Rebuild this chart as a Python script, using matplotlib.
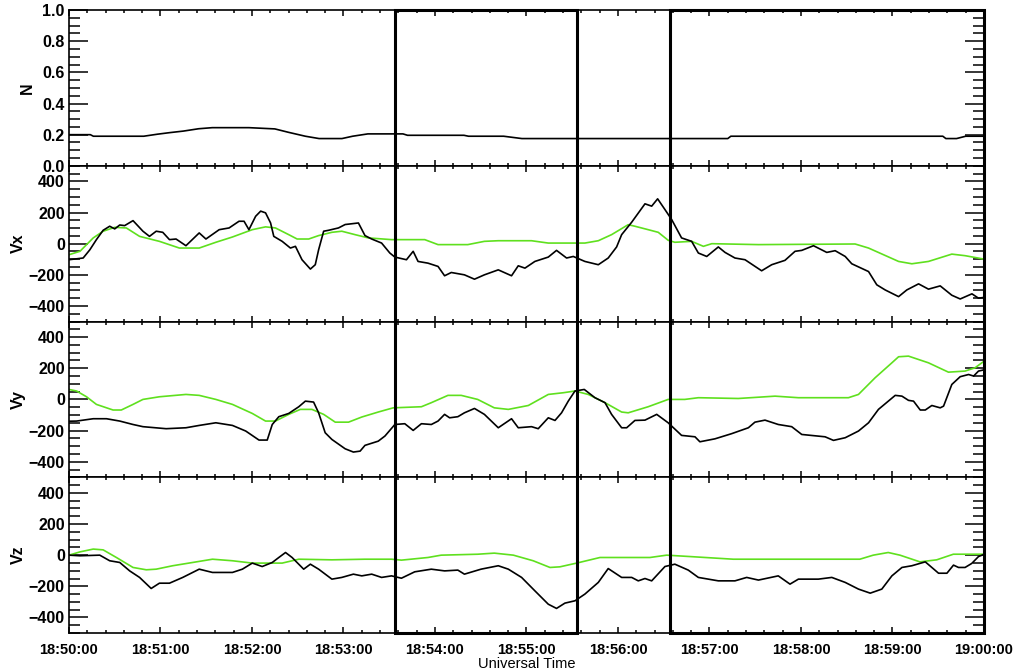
import numpy as np
import matplotlib
matplotlib.use('Agg')
import matplotlib.pyplot as plt
from matplotlib.patches import Rectangle
from matplotlib.ticker import MultipleLocator
from matplotlib.transforms import blended_transform_factory

plt.rcParams['font.family'] = ['Liberation Sans', 'DejaVu Sans']
plt.rcParams['font.weight'] = 'bold'

# time in seconds after 18:50:00
tick_sec = [0, 60, 120, 180, 240, 300, 360, 420, 480, 540, 600]
tick_labels = ['18:50:00', '18:51:00', '18:52:00', '18:53:00', '18:54:00', '18:55:00',
               '18:56:00', '18:57:00', '18:58:00', '18:59:00', '19:00:00']

# boxed intervals (s)
box_start = [214, 394]
box_end = [333, 600]

# N
t_n = [0, 14, 16, 33, 49, 58, 66, 75, 85, 94, 118, 135, 144, 155, 164, 179, 186, 196, 219, 222,
       259, 262, 285, 297, 432, 434, 573, 575, 582, 588, 600]
n_vals = [0.20, 0.20, 0.19, 0.19, 0.19, 0.203, 0.213, 0.223, 0.238, 0.245, 0.245, 0.237, 0.215, 0.19,
          0.175, 0.175, 0.19, 0.205, 0.205, 0.196, 0.196, 0.19, 0.19, 0.175, 0.175, 0.19, 0.19, 0.175,
          0.175, 0.19, 0.19]

# Vx
t_vx = [0, 9.3, 13.7, 18, 22.4, 26.7, 30, 33.3, 36.5, 42, 48.5, 52.8, 57.2, 61.5, 65.9, 70.2, 76.7,
        85.4, 89.8, 98.5, 105, 111.5, 114.8, 118, 122.4, 125.7, 128.9, 132.2, 134.3, 139.8, 145.2,
        148.5, 152.8, 158.3, 161.5, 163.7, 167, 170.2, 176.7, 181.1, 189.8, 194.1, 198.5, 205, 210.4,
        213.7, 221.3, 225.7, 228.9, 235.4, 242, 246.3, 250.7, 259.3, 265.9, 272.4,
        281.5, 290.2, 294.6, 299, 305.5, 314.3, 319.7, 326.3, 330.7, 338.3, 347.1, 353.6, 359.1, 362.4,
        369, 377.7, 382.1, 386, 390.8, 395.2, 401.7, 408.3, 412.7, 418.2, 425.8, 430.2, 436.7, 443.3,
        454.2, 460.8, 469.5, 476.1, 480.5, 488.2, 496.9, 502.4, 509, 513.3, 524.3, 529.7, 535.2, 544,
        549.4, 557.1, 563.6, 571.3, 578.9, 584.4, 592.1, 596.4, 600]
vx_obs = [-103, -92, -39, 26, 86, 112, 95, 120, 116, 148, 80, 47, 80, 73, 26, 30, -13,
          69, 30, 90, 101, 144, 144, 90, 176, 209, 198, 133, 47, 15, -28,
          -17, -103, -163, -135, -39, 80, 86, 101, 123, 133, 52, 30, 4, -60,
          -86, -103, -49, -114, -125, -146, -206, -185, -200, -228, -200,
          -168, -206, -142, -157, -114, -86, -43, -92, -82, -114, -135, -92, -21, 58,
          138, 256, 241, 288, 219, 155, 37, 15, -60, -82, -21, -56, -92, -103,
          -174, -135, -107, -49, -43, -13, -56, -45, -82, -129, -179, -264, -297, -340,
          -297, -258, -292, -271, -331, -355, -322, -350, -345]
t_vx_m = [0, 7.2, 15.9, 22.4, 30, 37.6, 46.3, 59.3, 72.4, 85.4, 96.3, 107.2, 120.2, 128.9, 135.4,
          144.1, 149.6, 157.2, 163.7, 172.4, 178.9, 187.6, 196.3, 211.5, 233.3, 242, 261.5, 272.4,
          281.5, 303.3, 314.3, 338.3, 347.1, 355.8, 366.7, 371.1, 379.8, 386.4, 392.9, 397.3, 408.3,
          416, 421.5, 452.1, 515.5, 524.3, 544, 552.7, 563.6, 578.9, 587.6, 600]
vx_mod = [-71, -49, 37, 80, 105, 101, 47, 15, -28, -28, 9, 43, 90, 108, 101,
          58, 30, 30, 52, 73, 80, 58, 37, 26, 26, -6, -6, 15,
          19, 19, 4, 4, 19, 58, 122, 112, 90, 73, 22, 9, 15,
          -17, 0, -6, -2, -28, -114, -129, -114, -67, -77, -99]

# Vy
t_vy = [0, 5, 15.9, 24.6, 33.3, 42, 48.5, 63.7, 76.7, 85.4, 96.3, 107.2, 115.9, 124.6, 130, 133.3,
        137.6, 144.1, 150.7, 155, 160.4, 163.7, 168, 172.4, 181.1, 186.5, 190.9, 194.1, 202.8, 207.2,
        213.7, 220.2, 225.7, 231.1, 237.6, 242, 246.3, 249.6, 255, 259.3, 265.9, 272.4,
        281.5, 290.2, 294.6, 303.3, 307.7, 314.3, 318.7, 323, 327.4, 331.8, 337.9, 344.9, 351.5,
        355.8, 362.4, 365.7, 371.1, 377.7, 385.4, 392.9, 401.7, 410.5, 413.7, 423.6, 434.5, 445.5,
        449.8, 456.4, 465.1, 473.9, 480.5, 495.8, 501.3, 509, 517.7, 524.3, 530.8, 541.8, 546.2,
        550.5, 553.8, 558.2, 561.5, 565.8, 571.3, 573.5, 578.9, 584.4, 589.9, 593.2, 596.4, 600]
vy_obs = [-140, -139, -124, -124, -139, -161, -175, -188, -182, -167, -150, -167, -203, -261, -261, -161,
          -111, -90, -47, -11, -17, -86, -214, -257, -317, -338, -332, -295, -268, -235,
          -161, -156, -199, -156, -161, -139, -96, -118, -111, -86, -58, -96,
          -182, -124, -182, -175, -188, -118, -135, -86, -11, 54, 64, 11, -21,
          -96, -182, -182, -135, -133, -96, -150, -231, -240, -272, -253, -220, -182,
          -146, -133, -161, -175, -225, -240, -263, -246, -203, -150, -64, 26, 21,
          -6, -11, -68, -68, -39, -54, -43, 96, 146, 160, 150, 182, 190]
t_vy_m = [0, 5, 11.5, 18, 28.9, 34.3, 42, 48.5, 59.3, 76.7, 85.4, 96.3, 107.2, 120.2, 128.9, 135.4,
          144.1, 151.7, 159.3, 167, 174.6, 183.3, 192, 202.8, 212.6, 231.1, 237.6, 248.5, 257.2, 268,
          278.9, 288.1, 301.2, 314.3, 324.2, 331.8, 340.5, 351.5, 362.4, 366.7, 379.8, 392.9, 403.8,
          412.7, 438.9, 463, 478.3, 511.1, 517.7, 528.6, 539.6, 544, 550.5, 563.6, 576.7, 587.6,
          594.1, 600]
vy_mod = [64, 54, 17, -32, -68, -68, -32, 0, 17, 32, 26, 0, -32, -90, -139, -139,
          -96, -64, -64, -96, -146, -146, -113, -81, -54, -47, -21, 26, 26, 0,
          -54, -64, -39, 32, 43, 54, 32, -21, -81, -86, -47, 0, 0,
          11, 6, 21, 11, 11, 32, 139, 235, 274, 278, 235, 175, 182,
          203, 245]

# Vz
t_vz = [0, 7.2, 20.2, 26.7, 33.3, 39.8, 46.3, 53.9, 59.3, 65.9, 74.6, 85.4, 94.1, 107.2, 113.7, 120.2,
        126.7, 133.3, 137.6, 142, 146.3, 153.9, 158.3, 163.7, 172.4, 178.9, 186.5, 192, 198.5, 205,
        211.5, 218, 226.7, 237.6, 246.3, 255, 259.3, 270.2,
        281.5, 288.1, 296.8, 305.5, 314.3, 319.7, 325.2, 331.8, 338.3, 347.1, 353.6, 362.4, 369,
        373.3, 377.7, 382.1, 390.8, 397.3, 406.1, 412.7, 425.8, 436.7, 444.4, 452.1, 465.1, 472.8,
        478.3, 491.4, 500.2, 509, 517.7, 525.4, 533, 539.6, 546.2, 552.7, 561.5, 565.8, 570.2,
        575.7, 580, 583.3, 587.6, 592, 596.4, 600]
vz_obs = [0, -4, 0, -36, -47, -101, -143, -214, -180, -180, -143, -90, -111, -111, -90, -51,
          -73, -47, -15, 17, -15, -90, -58, -90, -154, -143, -122, -133, -122, -143,
          -133, -148, -107, -90, -101, -96, -122, -90,
          -68, -90, -143, -229, -315, -342, -308, -293, -250, -175, -86, -143, -143,
          -165, -150, -165, -73, -58, -96, -143, -165, -165, -143, -160, -133, -186,
          -154, -154, -143, -175, -218, -244, -218, -133, -79, -68, -43, -79, -116,
          -116, -64, -79, -79, -53, -9, 5]
t_vz_m = [0, 7.2, 15.9, 22.4, 31.1, 42, 50.7, 57.2, 68, 81.1, 94.1, 107.2, 120.2, 139.8, 150.7,
          172.4, 194.1, 211.5, 218, 235.4, 244.1, 268, 278.9, 291.4, 304.4, 315.4, 321.9, 332.9,
          348.2, 381, 391.9, 407.2, 435.6, 518.6, 527.4, 537.2, 544.9, 558, 569, 579.9, 600]
vz_mod = [0, 21, 39, 34, -15, -79, -94, -90, -68, -47, -26, -36, -51, -51, -26,
          -30, -26, -26, -32, -15, 0, 6, 13, 0, -36, -79, -75, -51,
          -15, -15, 0, -9, -26, -26, 0, 17, 0, -43, -30, 6, 6]

green = '#5fe01e'

fig, axes = plt.subplots(4, 1, figsize=(10.31, 6.72), dpi=100, sharex=True)
plt.subplots_adjust(left=0.0669, right=0.9544, top=0.985, bottom=0.058, hspace=0)

panels = [
    ('N', [(t_n, n_vals, 'black')], (0, 1), 0.05, -0.0375),
    ('Vx', [(t_vx_m, vx_mod, green), (t_vx, vx_obs, 'black')], (-500, 500), 50, -0.0474),
    ('Vy', [(t_vy_m, vy_mod, green), (t_vy, vy_obs, 'black')], (-500, 500), 50, -0.0474),
    ('Vz', [(t_vz_m, vz_mod, green), (t_vz, vz_obs, 'black')], (-500, 500), 50, -0.0474),
]

for ax, (name, series, ylim, minor, lab_x) in zip(axes, panels):
    for t, v, c in series:
        ax.plot(t, v, color=c, lw=1.2)
    ax.set_xlim(0, 600)
    ax.set_ylim(*ylim)
    if name == 'N':
        ax.set_yticks(np.arange(0, 1.01, 0.2))
        ax.set_yticklabels(['0.0', '0.2', '0.4', '0.6', '0.8', '1.0'])
    else:
        ax.set_yticks([-400, -200, 0, 200, 400])
    ax.yaxis.set_minor_locator(MultipleLocator(minor))
    ax.set_xticks(tick_sec)
    ax.xaxis.set_minor_locator(MultipleLocator(12))
    ax.tick_params(axis='y', which='major', direction='in', length=14, width=1.1,
                   left=True, right=True, labelsize=11.5, pad=3)
    ax.tick_params(axis='y', which='minor', direction='in', length=8, width=1.1,
                   left=True, right=True)
    ax.tick_params(axis='x', which='major', direction='in', length=4, width=1.1,
                   top=True, bottom=True, labelsize=10.5, pad=7)
    ax.tick_params(axis='x', which='minor', direction='in', length=2.5, width=1.1,
                   top=True, bottom=True)
    for s in ax.spines.values():
        s.set_linewidth(1.2)
    ax.set_ylabel(name, fontsize=11.5, fontweight='bold')
    ax.yaxis.set_label_coords(lab_x, 0.5)

axes[-1].set_xticklabels(tick_labels)
axes[-1].set_xlabel('Universal Time', fontsize=10.5, labelpad=0)

# boxes spanning all panels
trans = blended_transform_factory(axes[-1].transData, fig.transFigure)
y0 = axes[-1].get_position().y0
y1 = axes[0].get_position().y1
for xs, xe in zip(box_start, box_end):
    rect = Rectangle((xs, y0), xe - xs, y1 - y0, transform=trans, fill=False,
                     edgecolor='black', lw=2.2, clip_on=False, zorder=10)
    fig.patches.append(rect)

fig.savefig('out.png', dpi=100, facecolor='white')
